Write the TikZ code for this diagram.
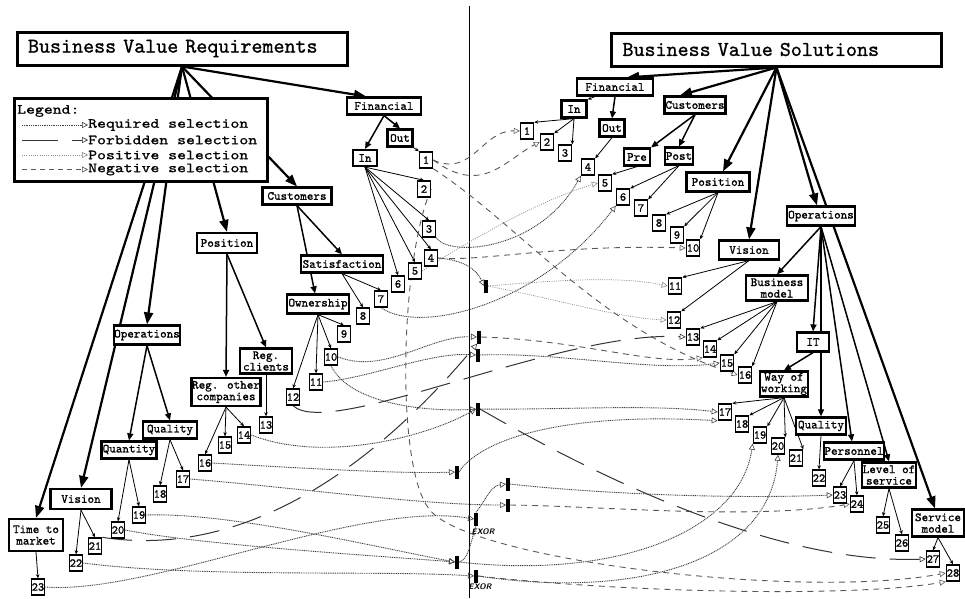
\documentclass[tikz,border=0pt]{standalone}
\usepackage{fontspec}
\newfontfamily\diafont{lmmono10-regular}[Extension=.otf, FakeBold=1]
\newfontfamily\legfont{lmmono10-regular}[Extension=.otf, FakeBold=1, FakeStretch=1.21]
\usetikzlibrary{arrows.meta, backgrounds}

\begin{document}
\begin{tikzpicture}[
    x=1pt, y=-1pt,
    font=\diafont,
    title/.style={draw, line width=3pt, fill=white, inner xsep=11pt, inner ysep=0pt,
                  minimum height=33pt, text width=308pt, align=left,
                  font=\diafont\fontsize{21}{22}\selectfont},
    cat/.style={draw, line width=2.2pt, fill=white, inner xsep=0.5pt, inner ysep=1pt,
                minimum height=17pt, align=center,
                font=\diafont\fontsize{12.5}{11.5}\selectfont},
    num/.style={draw, line width=1.4pt, fill=white, inner sep=0.3pt,
                minimum width=13pt, minimum height=16pt,
                font=\diafont\fontsize{12}{12}\selectfont},
    legtext/.style={anchor=west, inner sep=0pt,
                    font=\legfont\fontsize{14}{14}\selectfont},
    andbar/.style={fill=black, inner sep=0pt, minimum width=3.5pt, minimum height=13pt},
    exor/.style={font=\sffamily\bfseries\itshape\fontsize{8}{8}\selectfont, inner sep=0pt},
    main/.style={line width=2.2pt, -{Triangle[length=12pt, width=9pt]}},
    sub/.style={line width=1.5pt, -{Triangle[length=7pt, width=6pt]}},
    leaf/.style={line width=0.8pt, -{Stealth[length=4pt, width=3.5pt]}},
    opentip/.style={-{Triangle[open, length=6pt, width=6pt, line width=0.6pt]}},
    reqline/.style={opentip, line width=0.9pt, black!75, dash pattern=on 1pt off 0.8pt},
    forbline/.style={opentip, line width=1pt, black!80, dash pattern=on 30pt off 14pt},
    posline/.style={opentip, line width=0.7pt, black!45, dash pattern=on 1pt off 1.2pt},
    negline/.style={opentip, line width=0.9pt, black!65, dash pattern=on 6pt off 5pt},
  ]
  \useasboundingbox (0,0) rectangle (965,598);
  % ---- titles and legend ----
  \node[title] (bvr) at (182,48.5) {Business Value Requirements};
  \node[title] (bvs) at (776.5,49.5) {Business Value Solutions};
  \node[draw, line width=3pt, fill=white, minimum width=253pt, minimum height=83pt]
    (legend) at (140.5,139.5) {};
  \node[legtext] (lghead) at (17,111) {Legend:};
  \node[legtext] (lgreq)  at (88,125) {Required selection};
  \node[legtext] (lgforb) at (88,140) {Forbidden selection};
  \node[legtext] (lgpos)  at (88,155) {Positive selection};
  \node[legtext] (lgneg)  at (88,169.5) {Negative selection};
  \draw[reqline]  ([xshift=-66pt]lgreq.west)  -- (lgreq.west);
  \draw[forbline, dash pattern=on 36pt off 14pt] ([xshift=-66pt]lgforb.west) -- (lgforb.west);
  \draw[posline]  ([xshift=-66pt]lgpos.west)  -- (lgpos.west);
  \draw[negline, dash pattern=on 5pt off 4pt] ([xshift=-66pt]lgneg.west) -- (lgneg.west);
  % ---- requirements: categories ----
  \node[cat, minimum width=74pt] (lfin)  at (384,106) {Financial};
  \node[cat, minimum width=25pt] (lout)  at (400,138) {Out};
  \node[cat, minimum width=24pt, minimum height=16pt] (lin) at (365,158) {In};
  \node[cat, minimum width=69pt] (lcus)  at (297,196) {Customers};
  \node[cat, minimum width=82pt] (lsat)  at (342,264) {Satisfaction};
  \node[cat, minimum width=62pt, minimum height=19pt] (lown) at (318,304) {Ownership};
  \node[cat, minimum width=60pt, minimum height=20pt] (lpos) at (227,243) {Position};
  \node[cat, minimum width=52pt, minimum height=25pt] (lrc)  at (266,361) {Reg.\\clients};
  \node[cat, minimum width=69pt, minimum height=28pt] (lreo) at (226,392) {Reg. other\\companies};
  \node[cat, minimum width=65pt, minimum height=19pt] (lops) at (147,335) {Operations};
  \node[cat, minimum width=55pt] (lqnt)  at (129,450) {Quantity};
  \node[cat, minimum width=54pt] (lqual) at (170,430) {Quality};
  \node[cat, minimum width=61pt, minimum height=20pt] (lvis) at (81,499) {Vision};
  \node[cat, minimum width=54pt, minimum height=32pt] (ltime) at (36,535) {Time to\\market};
  \foreach \n/\x/\y in {1/426/160, 2/424/189, 3/429/229, 4/431/258, 5/415/271,
      6/398/284, 7/381/299, 8/363/316, 9/344/334, 10/331/357, 11/316/382,
      12/293/397, 13/266/425, 14/244/435, 15/225/445, 16/205/463, 17/183/479,
      18/160/494, 19/139/515, 20/118/530, 21/95/546, 22/76/563, 23/38/587}
    \node[num] (l\n) at (\x,\y) {\n};
  % ---- solutions: categories ----
  \node[cat, minimum width=76pt] (rfin)  at (615,87)  {Financial};
  \node[cat, minimum width=25pt] (rin)   at (574,109) {In};
  \node[cat, minimum width=25pt] (rout)  at (612,128) {Out};
  \node[cat, minimum width=61pt] (rcus)  at (695,105) {Customers};
  \node[cat, minimum width=26pt] (rpre)  at (637,157) {Pre};
  \node[cat, minimum width=27pt] (rpost) at (679,156) {Post};
  \node[cat, minimum width=63pt, minimum height=19pt] (rpos) at (718,182) {Position};
  \node[cat, minimum width=60pt, minimum height=19pt] (rvis) at (749,250) {Vision};
  \node[cat, minimum width=68pt, minimum height=19pt] (rops) at (821,216) {Operations};
  \node[cat, minimum width=62pt, minimum height=25pt] (rbm)  at (777,288) {Business\\model};
  \node[cat, minimum width=32pt, minimum height=19pt] (rit)  at (813,342) {IT};
  \node[cat, minimum width=48pt, minimum height=25pt] (rwow) at (784,384) {Way of\\working};
  \node[cat, minimum width=50pt] (rqual) at (821,426) {Quality};
  \node[cat, minimum width=56pt] (rper)  at (854,451) {Personnel};
  \node[cat, minimum width=52pt, minimum height=25pt] (rlos) at (889,475) {Level of\\service};
  \node[cat, minimum width=52pt, minimum height=27pt] (rsvc) at (938,523) {Service\\model};
  \foreach \n/\x/\y in {1/527/131, 2/547/142, 3/565/153, 4/588/167, 5/605/183,
      6/623/197, 7/641/208, 8/659/223, 9/677/235, 10/693/248, 11/675/286,
      12/674/320, 13/693/337, 14/710/349, 15/727/363, 16/745/375, 17/725/412,
      18/742/424, 19/760/435, 20/778/446, 21/796/458, 22/819/478, 23/840/495,
      24/857/504, 25/883/525, 26/902/543, 27/933/559, 28/953/573}
    \node[num] (r\n) at (\x,\y) {\n};
  % ---- selection junctions ----
  \node[andbar] (j1)  at (486,286) {};
  \node[andbar] (j2)  at (479,337) {};
  \node[andbar] (j3)  at (478,355) {};
  \node[andbar] (j4)  at (478,409) {};
  \node[andbar] (j5)  at (457,472) {};
  \node[andbar] (j6)  at (508,484) {};
  \node[andbar] (j7)  at (508,505) {};
  \node[andbar] (j8)  at (476,519) {};
  \node[andbar] (j9)  at (457,562) {};
  \node[andbar] (j10) at (476,576) {};
  \node[exor] (ex1) at (483,532) {EXOR};
  \node[exor] (ex2) at (480,587) {EXOR};

  \begin{scope}[on background layer]
    % ---- divider ----
    \coordinate (divtop) at (469,6);
    \coordinate (divbot) at (469,598);
    \draw[line width=1pt] (divtop) -- (divbot);
    % ---- requirements tree ----
    \draw[main] (bvr.south) -- ([xshift=-18pt]lfin.north);
    \draw[main] (bvr.south) -- (lcus.north);
    \draw[main] (bvr.south) -- (lpos.north);
    \draw[main] (bvr.south) -- (lops.north);
    \draw[main] (bvr.south) -- (lvis.north);
    \draw[main] (bvr.south) -- (ltime.north);
    \draw[sub] (lfin.south) -- (lin.north);
    \draw[sub] (lfin.south) -- (lout.north);
    \draw[leaf] (lout.south east) -- (l1.north west);
    \foreach \n in {2,...,6} \draw[leaf] (lin.south) -- (l\n.north);
    \draw[sub] (lcus.south) -- (lsat.north);
    \draw[sub] (lcus.south) -- ([xshift=-3pt]lown.north);
    \foreach \n in {7,8} \draw[leaf] (lsat.south) -- (l\n.north);
    \foreach \n in {9,...,12} \draw[leaf] (lown.south) -- (l\n.north);
    \draw[sub] (lpos.south) -- (lreo.north);
    \draw[sub] (lpos.south) -- (lrc.north);
    \draw[leaf] (lrc.south) -- (l13.north);
    \foreach \n in {14,15,16} \draw[leaf] (lreo.south) -- (l\n.north);
    \draw[sub] (lops.south) -- (lqnt.north);
    \draw[sub] (lops.south) -- (lqual.north);
    \foreach \n in {17,18} \draw[leaf] (lqual.south) -- (l\n.north);
    \foreach \n in {19,20} \draw[leaf] (lqnt.south) -- (l\n.north);
    \foreach \n in {21,22} \draw[leaf] (lvis.south) -- (l\n.north);
    \draw[leaf] (ltime.south) -- (l23.north);
    % ---- solutions tree ----
    \draw[main] (bvs.south) -- ([xshift=12pt]rfin.north);
    \draw[main] (bvs.south) -- ([xshift=-15pt]rcus.north);
    \draw[main] (bvs.south) -- ([xshift=5pt]rpos.north);
    \draw[main] (bvs.south) -- (rvis.north);
    \draw[main] (bvs.south) -- ([xshift=-4pt]rops.north);
    \draw[main] (bvs.south) -- ([xshift=-3pt]rsvc.north);
    \draw[leaf] ([xshift=-20pt]rfin.south) -- (rin.north east);
    \draw[sub] (rfin.south) -- (rout.north);
    \foreach \n in {1,2,3} \draw[leaf] (rin.south) -- (r\n.north east);
    \draw[leaf] (rout.south) -- (r4.north east);
    \draw[sub] (rcus.south) -- (rpre.north east);
    \draw[sub] (rcus.south) -- (rpost.north);
    \draw[leaf] (rpre.south) -- (r5.north east);
    \foreach \n in {6,7} \draw[leaf] (rpost.south) -- (r\n.north east);
    \foreach \n in {8,9,10} \draw[leaf] (rpos.south) -- (r\n.north east);
    \foreach \n in {11,12} \draw[leaf] (rvis.south) -- (r\n.north east);
    \draw[sub] (rops.south) -- (rbm.north);
    \draw[sub] (rops.south) -- (rit.north);
    \draw[sub] (rops.south) -- (rqual.north);
    \draw[sub] (rops.south) -- ([xshift=-2pt]rper.north);
    \draw[sub] (rops.south) -- (rlos.north);
    \foreach \n in {13,...,16} \draw[leaf] (rbm.south) -- (r\n.north east);
    \draw[sub] (rit.south) -- (rwow.north);
    \foreach \n in {17,...,21} \draw[leaf] (rwow.south) -- (r\n.north east);
    \draw[leaf] (rqual.south) -- (r22.north);
    \foreach \n in {23,24} \draw[leaf] (rper.south) -- (r\n.north);
    \foreach \n in {25,26} \draw[leaf] (rlos.south) -- (r\n.north);
    \foreach \n in {27,28} \draw[leaf] (rsvc.south) -- (r\n.north);
    % ---- required selections (dotted) ----
    \draw[reqline] (l3.south east) .. controls (450,258) and (540,250) .. (r4.south west);
    \draw[reqline] (l4.east) .. controls (462,260) and (476,268) .. (j1.west);
    \draw[reqline] (l7.south) .. controls (420,335) and (540,305) .. (r6.south west);
    \draw[reqline] (l10.east) .. controls (385,375) and (430,335) .. (j2.west);
    \draw[reqline] (l11.east) .. controls (370,378) and (430,352) .. (j3.west);
    \draw[reqline] (l10.south) .. controls (350,405) and (430,412) .. (j4.west);
    \draw[reqline] (l14.east) .. controls (320,462) and (420,440) .. (j4.west);
    \draw[reqline] (l16.east) .. controls (300,468) and (400,474) .. (j5.west);
    \draw[reqline] (l17.east) .. controls (300,488) and (420,505) .. (j7.west);
    \draw[reqline] (l19.east) .. controls (230,512) and (380,548) .. (j9.west);
    \draw[reqline] (l20.east) .. controls (200,545) and (380,556) .. (j9.west);
    \draw[reqline] (l22.east) .. controls (200,578) and (380,570) .. (j10.west);
    \draw[reqline] (l23.east) .. controls (150,595) and (360,500) .. (j8.west);
    \draw[reqline] (j8.north) .. controls (486,500) and (490,486) .. (j6.west);
    \draw[reqline, arrows=-] (j8.south) .. controls (470,545) and (468,560) .. (j9.east);
    \draw[reqline] (j3.east) .. controls (560,352) and (650,372) .. (r15.west);
    \draw[reqline] (j4.east) .. controls (560,410) and (650,404) .. (r17.west);
    \draw[reqline] (j5.east) .. controls (480,440) and (560,412) .. (r17.south west);
    \draw[reqline] (j6.east) .. controls (560,490) and (700,500) .. (r23.west);
    \draw[reqline] (j9.east) .. controls (620,580) and (740,530) .. (r19.south west);
    \draw[reqline] (j10.east) .. controls (640,600) and (770,560) .. (r20.south);
    % ---- positive selections ----
    \draw[posline] (j1.east) .. controls (560,280) and (620,276) .. (r11.west);
    \draw[posline] (j1.east) .. controls (560,300) and (620,318) .. (r12.west);
    \draw[posline] (l5.east) .. controls (470,240) and (540,200) .. (r5.west);
    % ---- negative selections ----
    \draw[negline] (l1.east) .. controls (472,178) and (482,130) .. (r1.west);
    \draw[negline] (l1.east) .. controls (482,196) and (505,160) .. (r2.west);
    \draw[negline] (l1.south east) .. controls (520,225) and (600,330) .. (r16.west);
    \draw[negline] (l4.east) .. controls (480,262) and (560,244) .. (r10.west);
    \draw[negline] (j2.east) .. controls (580,340) and (650,365) .. (r14.south west);
    \draw[negline] (j7.east) .. controls (600,506) and (750,520) .. (r24.west);
    \draw[negline] (j10.east) .. controls (620,592) and (850,598) .. (r28.south west);
    \draw[negline] (l2.east) .. controls (400,260) and (395,470) .. (430,510)
                             .. controls (470,560) and (800,600) .. (r28.west);
    % ---- forbidden selections ----
    \draw[forbline] (l12.south) .. controls (330,440) and (560,330) .. (r13.west);
    \draw[forbline] (l21.north east) .. controls (250,560) and (380,460) .. (j2.south west);
    \draw[forbline] (j4.east) .. controls (560,455) and (760,565) .. (r27.west);
  \end{scope}
\end{tikzpicture}
\end{document}
